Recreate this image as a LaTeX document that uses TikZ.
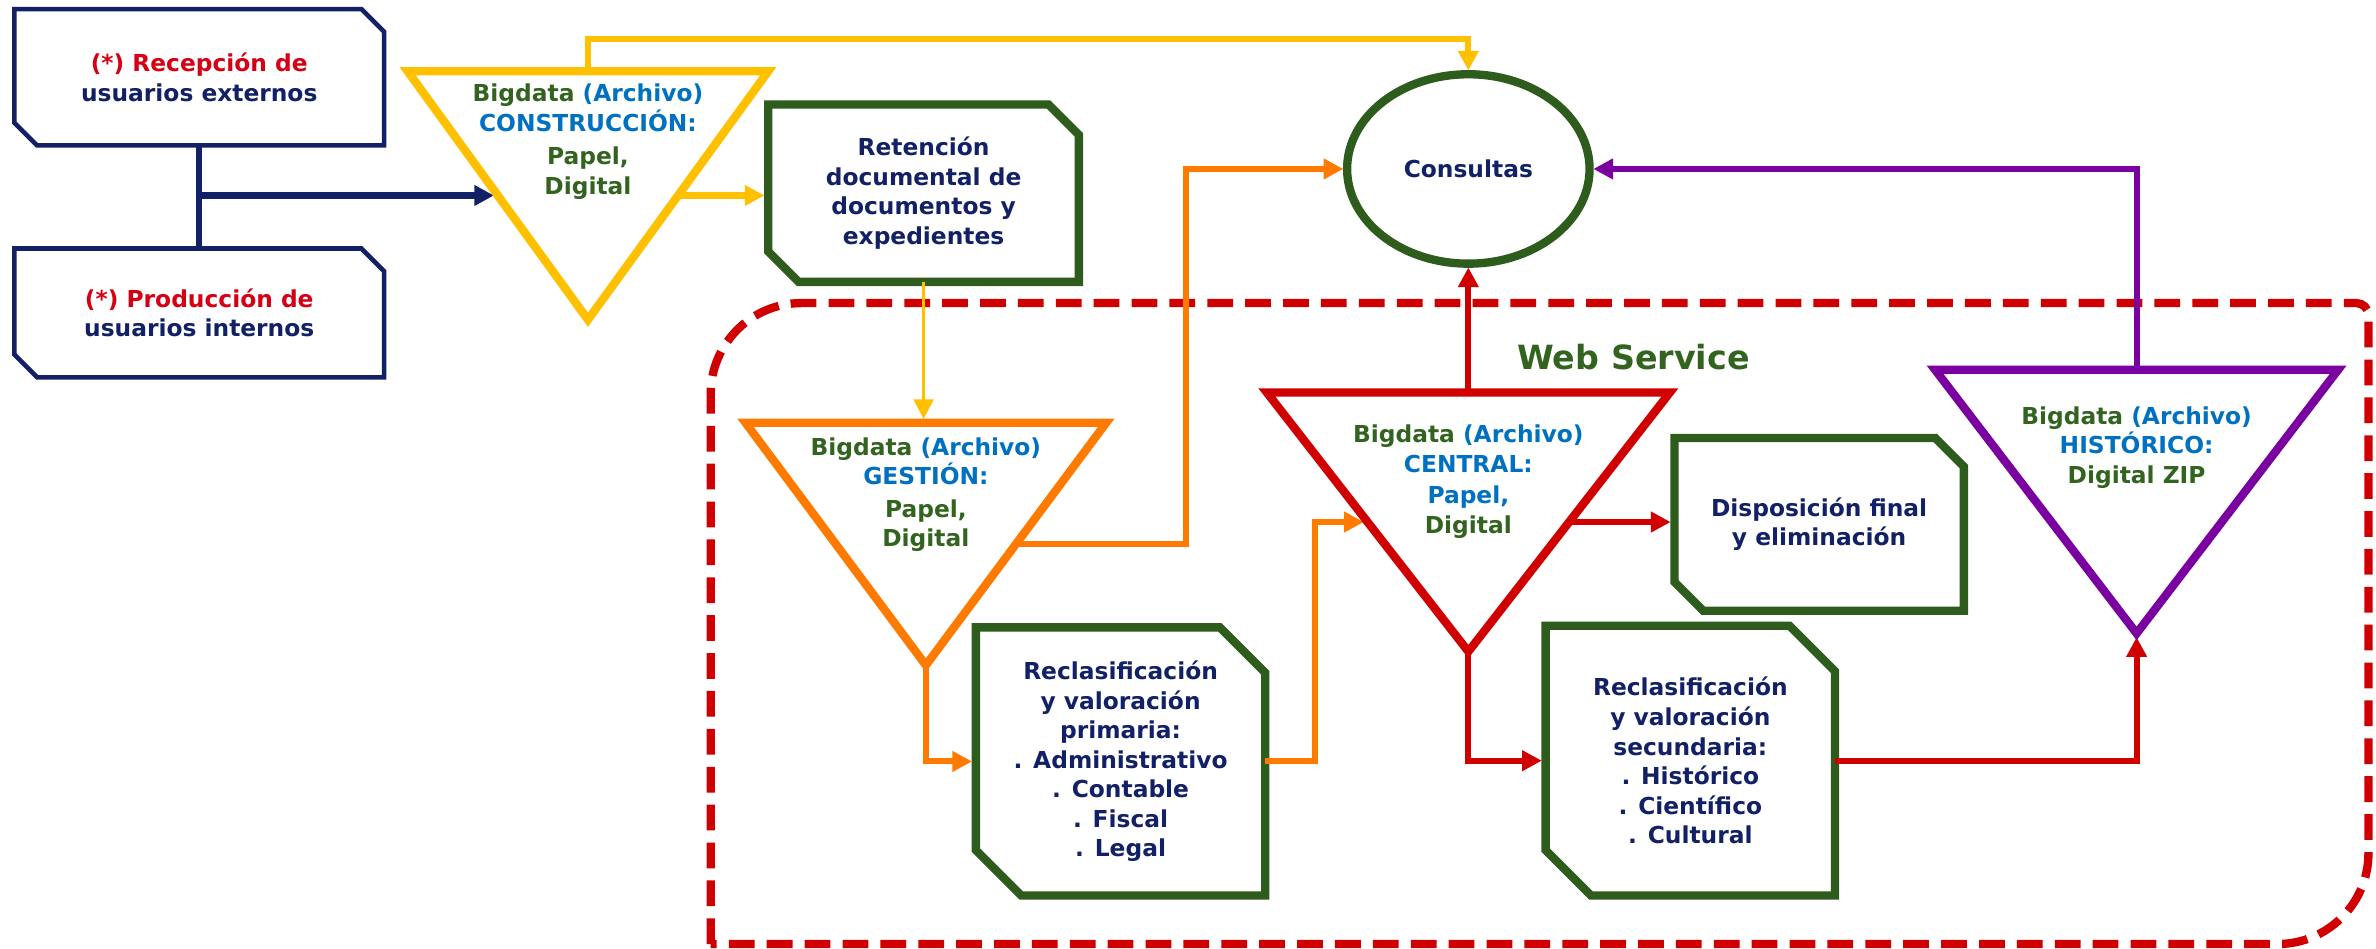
\documentclass[tikz,border=0pt]{standalone}
\usepackage{fontspec}
\setmainfont{DejaVu Sans}
\usetikzlibrary{arrows.meta,shapes.geometric,calc}
\definecolor{navyc}{RGB}{18,32,102}
\definecolor{redtx}{RGB}{214,0,20}
\definecolor{greenc}{RGB}{45,92,28}
\definecolor{greentx}{RGB}{50,100,32}
\definecolor{bluec}{RGB}{0,112,192}
\definecolor{yellowc}{RGB}{255,192,0}
\definecolor{orangec}{RGB}{255,122,0}
\definecolor{redc}{RGB}{208,0,0}
\definecolor{purplec}{RGB}{122,0,160}
% outline with cut corners round a named box
\newcommand{\chambox}[3]{%
  \draw[#3] (#1.north west) -- ($(#1.north east)+(-#2,0)$) -- ($(#1.north east)+(0,-#2)$)
    -- (#1.south east) -- ($(#1.south west)+(#2,0)$) -- ($(#1.south west)+(0,#2)$) -- cycle;}
\tikzset{
  txt/.style={font=\fontsize{15.4}{19.5}\selectfont\bfseries, align=center, text=navyc},
  box/.style={rectangle, inner sep=0pt, outer sep=0pt, txt},
  navyedge/.style={draw=navyc, line width=3pt},
  greenedge/.style={draw=greenc, line width=5.5pt},
  trilabel/.style={txt, text=greentx},
  trian/.style={line width=5.5pt},
  tip/.style={-{Triangle[length=13pt,width=13pt]}, shorten >=2.5pt},
  nline/.style={draw=navyc, line width=4pt},
  yline/.style={draw=yellowc, line width=4pt, tip},
  oline/.style={draw=orangec, line width=4pt, tip},
  rline/.style={draw=redc, line width=4pt, tip},
  pline/.style={draw=purplec, line width=4pt, tip},
  wsframe/.style={draw=redc, line width=5.5pt, dash pattern=on 17pt off 8pt},
}
\begin{document}
\begin{tikzpicture}[x=1pt,y=1pt]
\useasboundingbox (0,0) rectangle (1568,-626);
% web service frame
\draw[wsframe] (469,-623) -- (469,-260) arc[start angle=180,end angle=90,radius=60] -- (1555,-200) arc[start angle=90,end angle=0,radius=8] -- (1563,-563) arc[start angle=0,end angle=-90,radius=60] -- cycle;
\node[txt, text=greentx, font=\fontsize{22}{26}\selectfont\bfseries, anchor=base] (webs) at (1078,-244) {Web Service};
% boxes
\node[box, minimum width=244pt, minimum height=90pt] (recep) at (131.5,-51) {\textcolor{redtx}{(*) Recepción de}\\usuarios externos};
\node[box, minimum width=244pt, minimum height=85pt] (produc) at (131.5,-206.5) {\textcolor{redtx}{(*) Producción de}\\usuarios internos};
\node[box, minimum width=205pt, minimum height=117pt] (reten) at (609.5,-127.5) {Retención\\documental de\\documentos y\\expedientes};
\node[ellipse, draw=greenc, line width=5.5pt, inner sep=0pt, outer sep=0pt, minimum width=160pt, minimum height=125pt, txt] (consul) at (969,-111.5) {Consultas};
\node[box, minimum width=191pt, minimum height=177pt] (rprim) at (739.5,-502.5) {Reclasificación\\y valoración\\primaria:\\. Administrativo\\. Contable\\. Fiscal\\. Legal};
\node[box, minimum width=191pt, minimum height=114pt] (disp) at (1200.5,-346) {Disposición final\\y eliminación};
\node[box, minimum width=191pt, minimum height=178pt] (rsec) at (1115.5,-502) {Reclasificación\\y valoración\\secundaria:\\. Histórico\\. Científico\\. Cultural};
\chambox{recep}{15}{navyedge}
\chambox{produc}{15}{navyedge}
\chambox{reten}{20}{greenedge}
\chambox{rprim}{30}{greenedge}
\chambox{disp}{19}{greenedge}
\chambox{rsec}{30}{greenedge}
% triangles
\coordinate (tcons-l) at (269,-47);
\coordinate (tcons-r) at (507,-47);
\coordinate (tcons-a) at (388,-211);
\coordinate (tgest-l) at (492,-279);
\coordinate (tgest-r) at (730,-279);
\coordinate (tgest-a) at (611,-439);
\coordinate (tcen-l) at (836,-259);
\coordinate (tcen-r) at (1102,-259);
\coordinate (tcen-a) at (969,-430);
\coordinate (thist-l) at (1277,-244);
\coordinate (thist-r) at (1543,-244);
\coordinate (thist-a) at (1410,-418);
\foreach \t in {tcons,tgest,tcen,thist}{
  \coordinate (\t-n) at ($(\t-l)!.5!(\t-r)$);
  \coordinate (\t-w) at ($(\t-l)!.5!(\t-a)$);
  \coordinate (\t-e) at ($(\t-r)!.5!(\t-a)$);
}
% connectors
\draw[nline] (recep.south) -- (produc.north);
\draw[nline, tip] (recep.south |- tcons-w) -- (tcons-w);
\draw[yline] (tcons-n) -- ++(0,21) -| (consul.north);
\draw[yline] (tcons-e) -- (tcons-e -| reten.west);
\draw[yline, line width=2.5pt] (reten.south) -- (reten.south |- tgest-n);
\draw[oline] (tgest-e) -- ++(112,0) |- (consul.west);
\draw[oline] (tgest-a) |- (rprim.west);
\draw[oline] (rprim.east) -- ++(33,0) |- (tcen-w);
\draw[rline] (tcen-n) -- (consul.south);
\draw[rline] (tcen-e) -- (tcen-e -| disp.west);
\draw[rline] (tcen-a) |- (rsec.west);
\draw[rline] (rsec.east) -| (thist-a);
\draw[pline] (thist-n) |- (consul.east);
\draw[trian, draw=yellowc] (tcons-l) -- (tcons-r) -- (tcons-a) -- cycle;
\draw[trian, draw=orangec] (tgest-l) -- (tgest-r) -- (tgest-a) -- cycle;
\draw[trian, draw=redc] (tcen-l) -- (tcen-r) -- (tcen-a) -- cycle;
\draw[trian, draw=purplec] (thist-l) -- (thist-r) -- (thist-a) -- cycle;
% triangle labels
\node[trilabel] (lcons) at (388,-93.4) {Bigdata \textcolor{bluec}{(Archivo)}\\\textcolor{bluec}{CONSTRUCCIÓN:}\\[2.5pt]Papel,\\Digital};
\node[trilabel] (lgest) at (611,-326.4) {Bigdata \textcolor{bluec}{(Archivo)}\\\textcolor{bluec}{GESTIÓN:}\\[2pt]Papel,\\Digital};
\node[trilabel] (lcen) at (969,-317.9) {Bigdata \textcolor{bluec}{(Archivo)}\\\textcolor{bluec}{CENTRAL:}\\[1.5pt]\textcolor{bluec}{Papel,}\\Digital};
\node[trilabel] (lhist) at (1410,-295.4) {Bigdata \textcolor{bluec}{(Archivo)}\\\textcolor{bluec}{HISTÓRICO:}\\Digital ZIP};
\end{tikzpicture}
\end{document}
